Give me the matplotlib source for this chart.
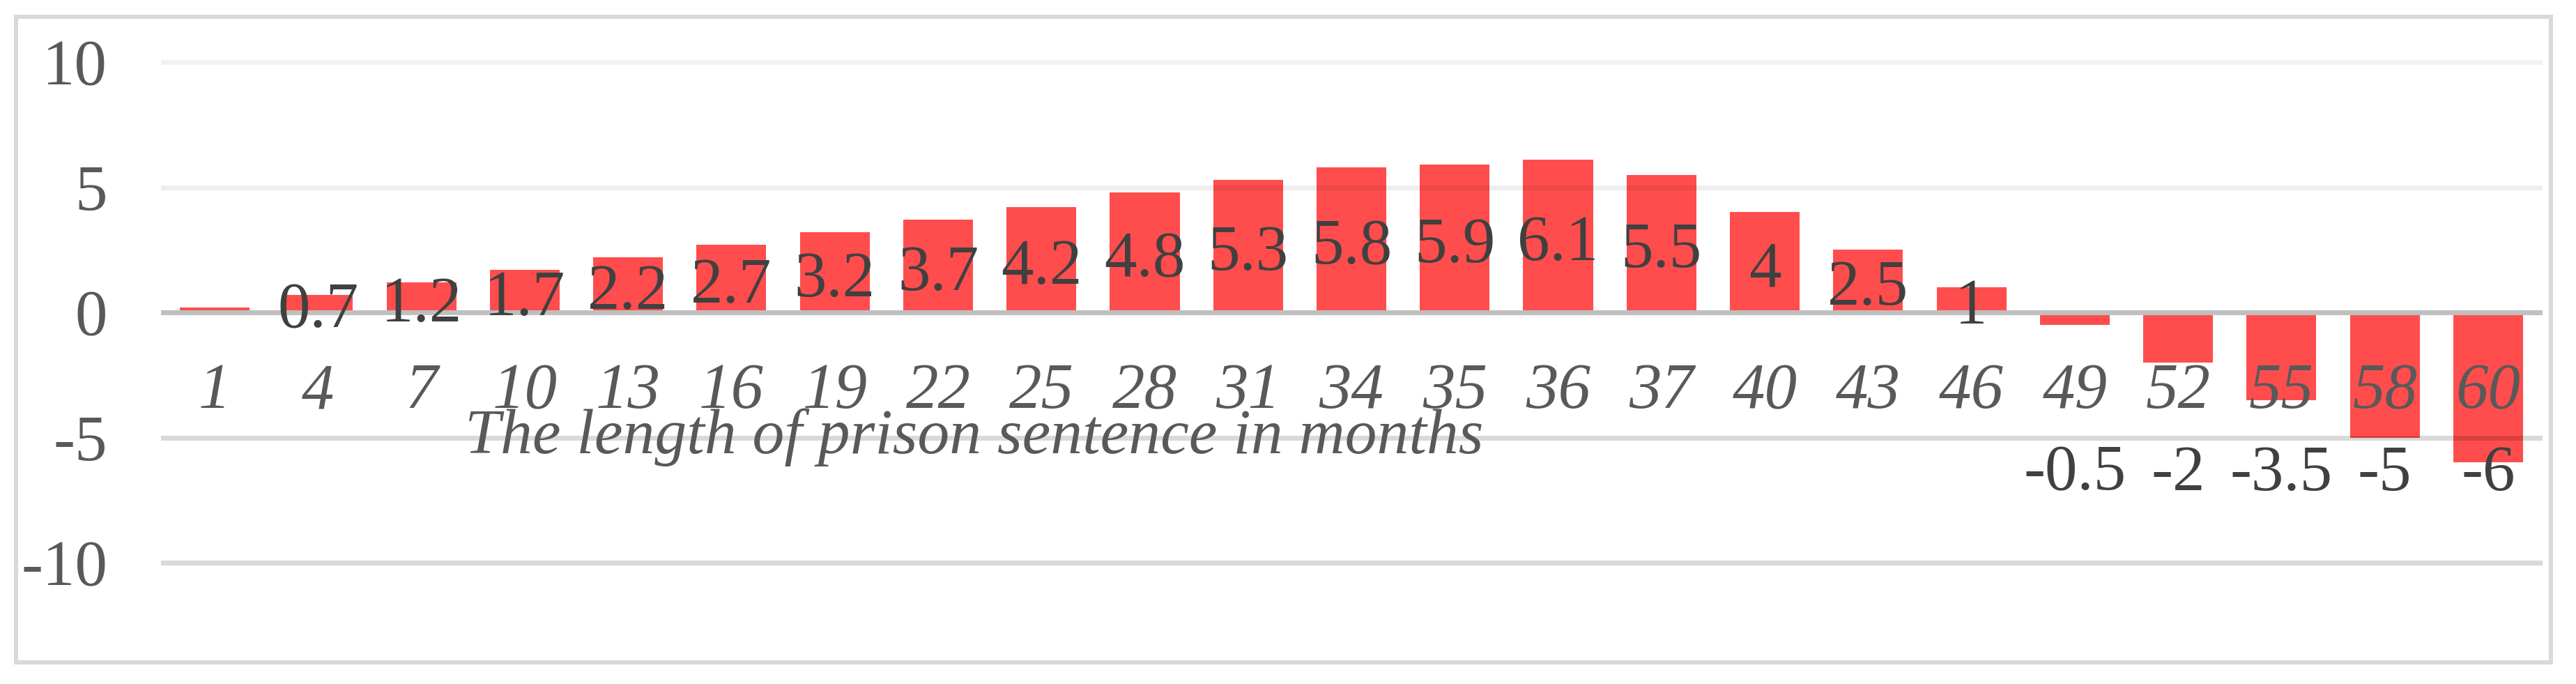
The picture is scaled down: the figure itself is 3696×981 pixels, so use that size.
import matplotlib.pyplot as plt
from matplotlib.patches import Rectangle

months = ["1", "4", "7", "10", "13", "16", "19", "22", "25", "28", "31", "34",
          "35", "36", "37", "40", "43", "46", "49", "52", "55", "58", "60"]
values = [0.2, 0.7, 1.2, 1.7, 2.2, 2.7, 3.2, 3.7, 4.2, 4.8, 5.3, 5.8,
          5.9, 6.1, 5.5, 4, 2.5, 1, -0.5, -2, -3.5, -5, -6]
value_labels = [""] + [f"{v:g}" for v in values[1:]]
y_ticks = [-10, -5, 0, 5, 10]
y_tick_labels = ["-10", "-5", "0", "5", "10"]
x_title = "The length of prison sentence in months"

plt.rcParams["font.family"] = ["Liberation Serif", "DejaVu Serif"]
plt.rcParams["axes.unicode_minus"] = False

W, H = 3696, 981
fig = plt.figure(figsize=(W / 100, H / 100), dpi=100)
px = 72 / 100  # points per pixel

# outer frame
fig.patches.append(Rectangle((22.5 / W, 1 - 949.5 / H), (3660 - 22.5) / W, (949.5 - 23.5) / H,
                             transform=fig.transFigure, fill=False,
                             edgecolor="#d9d9d9", linewidth=6 * px))

ax = fig.add_axes([234 / W, 1 - 807 / H, 3410 / W, 718 / H])
ax.set_xlim(-0.5, len(months) - 0.5)
ax.set_ylim(-10, 10)
for s in ax.spines.values():
    s.set_visible(False)

x = list(range(len(months)))
ax.bar(x, values, width=0.675, color="#ff4d4d", zorder=2)

# gridlines drawn over the bars, zero line opaque
for yv, a in [(10, 0.05), (5, 0.065), (-5, 0.15), (-10, 0.15)]:
    ax.axhline(yv, color="black", alpha=a, linewidth=7 * px, zorder=3, clip_on=False)
ax.axhline(0, color="#bfbfbf", linewidth=7 * px, zorder=3, clip_on=False)

ax.set_xticks([])
ax.set_yticks(y_ticks)
ax.set_yticklabels(y_tick_labels)
ax.tick_params(axis="y", length=0, pad=80 * px, labelsize=67, labelcolor="#595959")

# category labels sit inside the plot, just under the zero line
for i, m in enumerate(months):
    ax.text(i, -3.82, m, ha="center", va="baseline", fontsize=67,
            style="italic", color="#595959", zorder=4)

# value labels: centred in positive bars, on a common row below for negatives
for i, (v, lab) in enumerate(zip(values, value_labels)):
    if not lab:
        continue
    y = v / 2 - 0.95 if v > 0 else -7.1
    ax.text(i, y, lab, ha="center", va="baseline", fontsize=67,
            color="#404040", zorder=5)

fig.text(667 / W, 1 - 650 / H, x_title, ha="left", va="baseline", fontsize=66,
         style="italic", color="#595959")

fig.savefig("out.png", dpi=100)
